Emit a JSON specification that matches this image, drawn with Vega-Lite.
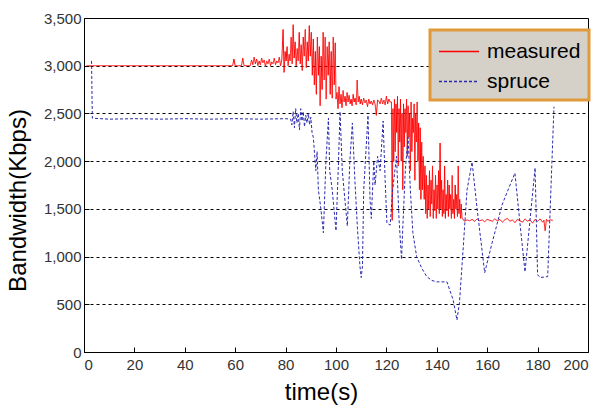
{
"$schema": "https://vega.github.io/schema/vega-lite/v6.json",
"width": 504, "height": 334,
"autosize": {"type": "none"},
"padding": {"left": 84, "top": 18, "right": 14, "bottom": 60},
"background": "white",
"config": {"view": {"stroke": "black", "strokeWidth": 1}},
"data": {"values": [
{"s":"measured","t":1,"v":3000},{"s":"measured","t":59,"v":3000},{"s":"measured","t":59.5,"v":3070},{"s":"measured","t":60,"v":3000},{"s":"measured","t":62.5,"v":3000},{"s":"measured","t":63,"v":3080},{"s":"measured","t":63.5,"v":3000},{"s":"measured","t":66,"v":3000},
{"s":"measured","t":66.5,"v":3060},{"s":"measured","t":67,"v":3010},{"s":"measured","t":67.5,"v":3090},{"s":"measured","t":68,"v":3020},{"s":"measured","t":68.5,"v":3070},{"s":"measured","t":69,"v":3000},{"s":"measured","t":69.5,"v":3050},{"s":"measured","t":70,"v":3010},{"s":"measured","t":70.5,"v":3080},{"s":"measured","t":71,"v":3030},{"s":"measured","t":71.5,"v":3060},{"s":"measured","t":72,"v":2990},{"s":"measured","t":72.5,"v":3050},{"s":"measured","t":73,"v":3020},{"s":"measured","t":73.5,"v":3070},{"s":"measured","t":74,"v":3000},{"s":"measured","t":74.5,"v":3040},{"s":"measured","t":75,"v":3020},{"s":"measured","t":75.5,"v":3080},{"s":"measured","t":76,"v":3010},{"s":"measured","t":76.5,"v":3050},{"s":"measured","t":77,"v":3030},{"s":"measured","t":77.5,"v":3090},{"s":"measured","t":78,"v":3000},{"s":"measured","t":78.5,"v":3060},{"s":"measured","t":79,"v":3380},{"s":"measured","t":79.4,"v":2930},{"s":"measured","t":79.8,"v":3150},{"s":"measured","t":80.2,"v":3050},{"s":"measured","t":80.6,"v":3200},{"s":"measured","t":81,"v":3000},{"s":"measured","t":81.4,"v":3120},
{"s":"measured","t":81.8,"v":3050},{"s":"measured","t":82.2,"v":3300},{"s":"measured","t":82.6,"v":3020},{"s":"measured","t":83,"v":3430},{"s":"measured","t":83.4,"v":3080},{"s":"measured","t":83.8,"v":3250},{"s":"measured","t":84.2,"v":3000},{"s":"measured","t":84.6,"v":3180},{"s":"measured","t":85,"v":3050},{"s":"measured","t":85.4,"v":3350},{"s":"measured","t":85.8,"v":3020},{"s":"measured","t":86.2,"v":3220},{"s":"measured","t":86.6,"v":2950},{"s":"measured","t":87,"v":3300},{"s":"measured","t":87.4,"v":3100},{"s":"measured","t":87.8,"v":3380},{"s":"measured","t":88.2,"v":2980},{"s":"measured","t":88.6,"v":3250},{"s":"measured","t":89,"v":3050},{"s":"measured","t":89.4,"v":3420},{"s":"measured","t":89.8,"v":3100},{"s":"measured","t":90.2,"v":3350},{"s":"measured","t":90.6,"v":2900},{"s":"measured","t":91,"v":3280},{"s":"measured","t":91.4,"v":2800},{"s":"measured","t":91.8,"v":3150},{"s":"measured","t":92.2,"v":2700},{"s":"measured","t":92.6,"v":3300},{"s":"measured","t":93,"v":2900},{"s":"measured","t":93.4,"v":3200},{"s":"measured","t":93.7,"v":2580},{"s":"measured","t":94.1,"v":3100},{"s":"measured","t":94.5,"v":2750},{"s":"measured","t":94.9,"v":3350},{"s":"measured","t":95.3,"v":2850},{"s":"measured","t":95.7,"v":3300},{"s":"measured","t":96.1,"v":2650},{"s":"measured","t":96.5,"v":3200},{"s":"measured","t":96.9,"v":2900},{"s":"measured","t":97.3,"v":3250},{"s":"measured","t":97.7,"v":2700},{"s":"measured","t":98.1,"v":3150},{"s":"measured","t":98.5,"v":2660},{"s":"measured","t":98.9,"v":3300},{"s":"measured","t":99.3,"v":2800},{"s":"measured","t":99.7,"v":3240},{"s":"measured","t":100,"v":2650},
{"s":"measured","t":100.4,"v":2720},{"s":"measured","t":100.8,"v":2550},{"s":"measured","t":101.2,"v":2780},{"s":"measured","t":101.6,"v":2600},{"s":"measured","t":102,"v":2700},{"s":"measured","t":102.4,"v":2560},{"s":"measured","t":102.8,"v":2740},{"s":"measured","t":103.2,"v":2620},{"s":"measured","t":103.6,"v":2680},{"s":"measured","t":104,"v":2580},{"s":"measured","t":104.4,"v":2720},{"s":"measured","t":104.8,"v":2620},{"s":"measured","t":105.2,"v":2690},{"s":"measured","t":105.6,"v":2600},{"s":"measured","t":106,"v":2650},{"s":"measured","t":106.4,"v":2580},{"s":"measured","t":106.8,"v":2700},{"s":"measured","t":107.2,"v":2620},{"s":"measured","t":107.6,"v":2660},{"s":"measured","t":108,"v":2590},{"s":"measured","t":108.4,"v":2850},{"s":"measured","t":108.8,"v":2620},{"s":"measured","t":109.2,"v":2680},{"s":"measured","t":109.6,"v":2600},{"s":"measured","t":110,"v":2650},{"s":"measured","t":110.5,"v":2590},{"s":"measured","t":111,"v":2660},{"s":"measured","t":111.5,"v":2610},{"s":"measured","t":112,"v":2640},{"s":"measured","t":112.5,"v":2570},{"s":"measured","t":113,"v":2650},{"s":"measured","t":113.5,"v":2600},{"s":"measured","t":114,"v":2630},{"s":"measured","t":114.5,"v":2590},{"s":"measured","t":115,"v":2640},{"s":"measured","t":115.5,"v":2600},{"s":"measured","t":116,"v":2480},{"s":"measured","t":116.5,"v":2640},{"s":"measured","t":117,"v":2630},{"s":"measured","t":117.5,"v":2600},{"s":"measured","t":118,"v":2660},{"s":"measured","t":118.5,"v":2600},{"s":"measured","t":119,"v":2640},{"s":"measured","t":119.5,"v":2590},{"s":"measured","t":120,"v":2680},{"s":"measured","t":120.5,"v":2600},{"s":"measured","t":121,"v":2650},{"s":"measured","t":121.5,"v":2620},
{"s":"measured","t":122,"v":2620},{"s":"measured","t":122.3,"v":1380},{"s":"measured","t":122.6,"v":2550},{"s":"measured","t":122.9,"v":2000},{"s":"measured","t":123.2,"v":2650},{"s":"measured","t":123.5,"v":2100},{"s":"measured","t":123.8,"v":2600},{"s":"measured","t":124.1,"v":2300},{"s":"measured","t":124.4,"v":2680},{"s":"measured","t":124.7,"v":1950},{"s":"measured","t":125,"v":2550},{"s":"measured","t":125.3,"v":2200},{"s":"measured","t":125.6,"v":2650},{"s":"measured","t":125.9,"v":2000},{"s":"measured","t":126.2,"v":2500},{"s":"measured","t":126.5,"v":1700},{"s":"measured","t":126.8,"v":2600},{"s":"measured","t":127.1,"v":2150},{"s":"measured","t":127.4,"v":2550},{"s":"measured","t":127.7,"v":2300},{"s":"measured","t":128,"v":2650},{"s":"measured","t":128.3,"v":2050},{"s":"measured","t":128.6,"v":2580},{"s":"measured","t":128.9,"v":2250},{"s":"measured","t":129.2,"v":2500},{"s":"measured","t":129.5,"v":1900},{"s":"measured","t":129.8,"v":2620},{"s":"measured","t":130.1,"v":2100},{"s":"measured","t":130.4,"v":2450},{"s":"measured","t":130.7,"v":2300},{"s":"measured","t":131,"v":2600},{"s":"measured","t":131.3,"v":1800},{"s":"measured","t":131.6,"v":2500},{"s":"measured","t":131.9,"v":2200},{"s":"measured","t":132.2,"v":2620},{"s":"measured","t":132.5,"v":2000},{"s":"measured","t":132.8,"v":2400},{"s":"measured","t":133.1,"v":1700},{"s":"measured","t":133.4,"v":2350},{"s":"measured","t":133.7,"v":1600},{"s":"measured","t":134,"v":2200},{"s":"measured","t":134.3,"v":1700},{"s":"measured","t":134.6,"v":2050},{"s":"measured","t":135,"v":1600},
{"s":"measured","t":135.3,"v":1950},{"s":"measured","t":135.6,"v":1450},{"s":"measured","t":135.9,"v":1850},{"s":"measured","t":136.2,"v":1400},{"s":"measured","t":136.5,"v":1750},{"s":"measured","t":136.8,"v":1500},{"s":"measured","t":137.1,"v":1900},{"s":"measured","t":137.4,"v":1420},{"s":"measured","t":137.7,"v":1800},{"s":"measured","t":138,"v":1550},{"s":"measured","t":138.3,"v":1950},{"s":"measured","t":138.6,"v":1400},{"s":"measured","t":138.9,"v":1700},{"s":"measured","t":139.2,"v":1480},{"s":"measured","t":139.5,"v":1850},{"s":"measured","t":139.8,"v":1400},{"s":"measured","t":140.1,"v":1750},{"s":"measured","t":140.4,"v":1500},{"s":"measured","t":140.7,"v":1900},{"s":"measured","t":141,"v":1450},{"s":"measured","t":141.3,"v":2190},{"s":"measured","t":141.6,"v":1500},{"s":"measured","t":141.9,"v":1800},{"s":"measured","t":142.2,"v":1420},{"s":"measured","t":142.5,"v":1700},{"s":"measured","t":142.8,"v":1450},{"s":"measured","t":143.1,"v":1950},{"s":"measured","t":143.4,"v":1400},{"s":"measured","t":143.7,"v":1650},{"s":"measured","t":144,"v":1480},{"s":"measured","t":144.3,"v":1800},{"s":"measured","t":144.6,"v":1420},{"s":"measured","t":144.9,"v":1750},{"s":"measured","t":145.2,"v":1500},{"s":"measured","t":145.5,"v":1650},{"s":"measured","t":145.8,"v":1400},{"s":"measured","t":146.1,"v":1850},{"s":"measured","t":146.4,"v":1450},{"s":"measured","t":146.7,"v":1600},{"s":"measured","t":147,"v":1400},{"s":"measured","t":147.3,"v":1750},{"s":"measured","t":147.6,"v":1500},{"s":"measured","t":147.9,"v":1650},{"s":"measured","t":148.2,"v":1420},{"s":"measured","t":148.5,"v":1950},{"s":"measured","t":148.8,"v":1450},{"s":"measured","t":149.1,"v":1600},{"s":"measured","t":149.4,"v":1400},{"s":"measured","t":149.7,"v":1550},{"s":"measured","t":150,"v":1400},
{"s":"measured","t":150.5,"v":1390},{"s":"measured","t":151,"v":1370},{"s":"measured","t":152,"v":1385},{"s":"measured","t":153,"v":1375},{"s":"measured","t":154,"v":1390},{"s":"measured","t":155,"v":1370},{"s":"measured","t":156,"v":1395},{"s":"measured","t":157,"v":1375},{"s":"measured","t":158,"v":1385},{"s":"measured","t":159,"v":1365},{"s":"measured","t":160,"v":1390},{"s":"measured","t":161,"v":1380},{"s":"measured","t":162,"v":1370},{"s":"measured","t":163,"v":1395},{"s":"measured","t":164,"v":1375},{"s":"measured","t":165,"v":1390},{"s":"measured","t":166,"v":1360},{"s":"measured","t":167,"v":1385},{"s":"measured","t":168,"v":1400},{"s":"measured","t":169,"v":1370},{"s":"measured","t":170,"v":1385},{"s":"measured","t":171,"v":1355},{"s":"measured","t":172,"v":1390},{"s":"measured","t":173,"v":1375},{"s":"measured","t":174,"v":1360},{"s":"measured","t":175,"v":1395},{"s":"measured","t":176,"v":1370},{"s":"measured","t":177,"v":1385},{"s":"measured","t":178,"v":1350},{"s":"measured","t":179,"v":1390},{"s":"measured","t":180,"v":1370},{"s":"measured","t":181,"v":1395},{"s":"measured","t":182,"v":1360},{"s":"measured","t":182.5,"v":1380},{"s":"measured","t":183,"v":1270},{"s":"measured","t":183.5,"v":1390},{"s":"measured","t":184,"v":1370},{"s":"measured","t":185,"v":1385},{"s":"measured","t":186,"v":1380},
{"s":"spruce","t":3,"v":3050},{"s":"spruce","t":3.3,"v":2450},{"s":"spruce","t":10,"v":2440},{"s":"spruce","t":20,"v":2445},{"s":"spruce","t":30,"v":2440},{"s":"spruce","t":40,"v":2445},{"s":"spruce","t":50,"v":2440},{"s":"spruce","t":60,"v":2445},{"s":"spruce","t":70,"v":2440},{"s":"spruce","t":80,"v":2445},{"s":"spruce","t":82,"v":2440},
{"s":"spruce","t":82.5,"v":2380},{"s":"spruce","t":83,"v":2520},{"s":"spruce","t":83.5,"v":2350},{"s":"spruce","t":84,"v":2550},{"s":"spruce","t":84.5,"v":2400},{"s":"spruce","t":85,"v":2500},{"s":"spruce","t":85.5,"v":2330},{"s":"spruce","t":86,"v":2550},{"s":"spruce","t":86.5,"v":2420},{"s":"spruce","t":87,"v":2520},{"s":"spruce","t":87.5,"v":2360},{"s":"spruce","t":88,"v":2480},{"s":"spruce","t":88.5,"v":2400},{"s":"spruce","t":89,"v":2500},{"s":"spruce","t":89.5,"v":2380},{"s":"spruce","t":90,"v":2460},{"s":"spruce","t":90.5,"v":2300},
{"s":"spruce","t":91,"v":2250},{"s":"spruce","t":92,"v":1900},{"s":"spruce","t":92.5,"v":2100},{"s":"spruce","t":93,"v":1700},{"s":"spruce","t":94,"v":1500},{"s":"spruce","t":95,"v":1250},{"s":"spruce","t":96,"v":2000},{"s":"spruce","t":97,"v":2450},{"s":"spruce","t":97.5,"v":1900},{"s":"spruce","t":98.5,"v":1700},{"s":"spruce","t":100,"v":1270},{"s":"spruce","t":101,"v":2000},{"s":"spruce","t":101.6,"v":2520},{"s":"spruce","t":102.5,"v":1900},{"s":"spruce","t":103,"v":1750},{"s":"spruce","t":104.5,"v":1320},{"s":"spruce","t":105.5,"v":2000},{"s":"spruce","t":106.5,"v":2400},{"s":"spruce","t":107.5,"v":1800},{"s":"spruce","t":108.5,"v":1300},{"s":"spruce","t":109.5,"v":900},{"s":"spruce","t":110,"v":780},{"s":"spruce","t":110.5,"v":900},{"s":"spruce","t":111,"v":1700},{"s":"spruce","t":112.7,"v":2480},{"s":"spruce","t":113.5,"v":1600},{"s":"spruce","t":114,"v":1400},{"s":"spruce","t":115,"v":2000},{"s":"spruce","t":115.5,"v":1750},{"s":"spruce","t":116.5,"v":2050},{"s":"spruce","t":117.5,"v":1900},{"s":"spruce","t":118.7,"v":2420},{"s":"spruce","t":119.5,"v":1800},{"s":"spruce","t":120.2,"v":1350},{"s":"spruce","t":121.5,"v":1330},{"s":"spruce","t":122.5,"v":1700},{"s":"spruce","t":124,"v":2050},{"s":"spruce","t":125,"v":1400},{"s":"spruce","t":126,"v":970},{"s":"spruce","t":126.5,"v":1300},{"s":"spruce","t":127.5,"v":1900},{"s":"spruce","t":128.6,"v":2250},{"s":"spruce","t":129.5,"v":1700},{"s":"spruce","t":130.5,"v":1250},{"s":"spruce","t":132,"v":1000},{"s":"spruce","t":134,"v":880},{"s":"spruce","t":136,"v":790},{"s":"spruce","t":138,"v":750},{"s":"spruce","t":140,"v":735},{"s":"spruce","t":144,"v":735},{"s":"spruce","t":146.5,"v":545},{"s":"spruce","t":148,"v":335},{"s":"spruce","t":149,"v":520},{"s":"spruce","t":150.5,"v":1100},{"s":"spruce","t":152,"v":1700},{"s":"spruce","t":154,"v":1990},{"s":"spruce","t":156,"v":1500},{"s":"spruce","t":159,"v":830},{"s":"spruce","t":162,"v":1150},{"s":"spruce","t":166,"v":1550},{"s":"spruce","t":171,"v":1875},{"s":"spruce","t":173,"v":1350},{"s":"spruce","t":175,"v":840},{"s":"spruce","t":176.5,"v":1250},{"s":"spruce","t":179,"v":1930},{"s":"spruce","t":180,"v":810},{"s":"spruce","t":181,"v":780},{"s":"spruce","t":184,"v":790},{"s":"spruce","t":186.5,"v":2570}
]},
"mark": {"type": "line", "strokeWidth": 1, "clip": true},
"encoding": {
  "x": {"field": "t", "type": "quantitative",
    "scale": {"domain": [0, 200], "nice": false, "zero": false},
    "axis": {"values": [0,20,40,60,80,100,120,140,160,180,200], "grid": false,
      "domainColor": "black", "tickColor": "black", "tickSize": -5, "labelPadding": 10,
      "labelFont": "Liberation Sans", "labelFontSize": 15, "labelColor": "#333333",
      "title": "time(s)", "titleFont": "Liberation Sans", "titleFontSize": 24, "titleFontWeight": "normal",
      "titleColor": "black", "titleX": 237, "titleY": 40, "titleBaseline": "middle", "titleAlign": "center"}},
  "y": {"field": "v", "type": "quantitative",
    "scale": {"domain": [0, 3500], "nice": false},
    "axis": {"values": [0,500,1000,1500,2000,2500,3000,3500], "format": ",.0f",
      "grid": true, "gridColor": "black", "gridDash": [3, 3], "gridOpacity": 1, "gridWidth": 1,
      "domainColor": "black", "tickColor": "black", "tickSize": -5, "labelPadding": 8,
      "labelFont": "Liberation Sans", "labelFontSize": 15, "labelColor": "#333333",
      "title": "Bandwidth(Kbps)", "titleFont": "Liberation Sans", "titleFontSize": 24, "titleFontWeight": "normal",
      "titleColor": "black", "titleX": -66, "titleY": 182, "titleAngle": -90, "titleBaseline": "middle", "titleAlign": "center"}},
  "color": {"field": "s", "type": "nominal",
    "scale": {"domain": ["measured", "spruce"], "range": ["#ff0000", "#2a2ab0"]},
    "legend": {"orient": "none", "legendX": 346, "legendY": 12, "title": null,
      "symbolType": "M-1,0H2.2", "symbolSize": 625, "symbolStrokeWidth": 1.5,
      "labelFont": "Liberation Sans", "labelFontSize": 21, "labelColor": "black",
      "fillColor": "#d5d1c8", "strokeColor": "#e09a3a", "padding": 8, "rowPadding": 6, "labelOffset": 22,
      "encode": {"legend": {"update": {"strokeWidth": {"value": 3}}}}}},
  "strokeDash": {"field": "s", "type": "nominal",
    "scale": {"domain": ["measured", "spruce"], "range": [[1, 0], [3, 2]]},
    "legend": {"orient": "none", "legendX": 346, "legendY": 12, "title": null,
      "symbolType": "M-1,0H2.2", "symbolSize": 625, "symbolStrokeWidth": 1.5,
      "labelFont": "Liberation Sans", "labelFontSize": 21, "labelColor": "black",
      "fillColor": "#d5d1c8", "strokeColor": "#e09a3a", "padding": 8, "rowPadding": 6, "labelOffset": 22,
      "encode": {"legend": {"update": {"strokeWidth": {"value": 3}}}}}}
}
}
